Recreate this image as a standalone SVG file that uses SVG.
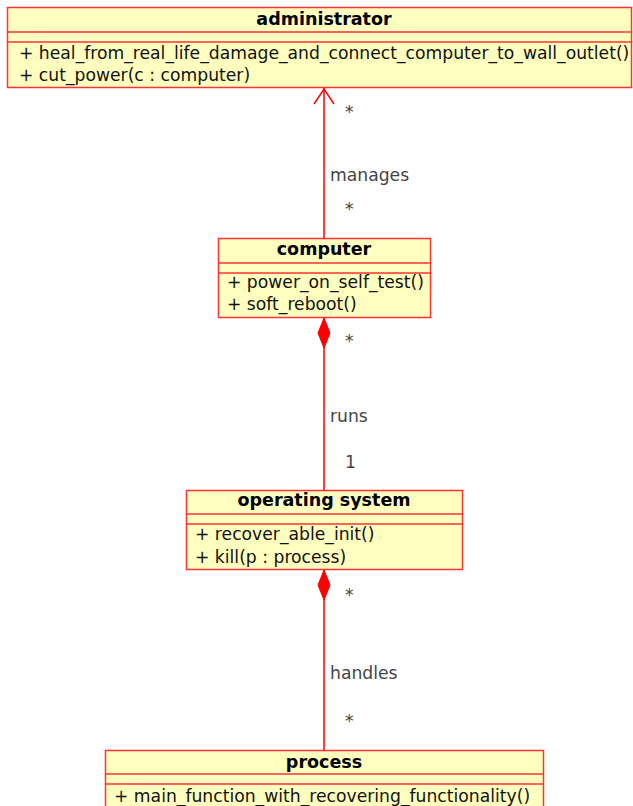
<svg xmlns="http://www.w3.org/2000/svg" width="633" height="806" viewBox="0 0 633 806">
<style>
.box{fill:#ffffc0;stroke:#f33;stroke-width:1.5}
.sep{stroke:#f33;stroke-width:1.5}
.title{font-family:"DejaVu Sans",sans-serif;font-size:17.5px;font-weight:bold;fill:#000;text-anchor:middle}
.op{font-family:"DejaVu Sans",sans-serif;font-size:17.2px;fill:#111}
.lbl{font-family:"DejaVu Sans",sans-serif;font-size:17.2px;fill:#444}
.edge{stroke:#f00;stroke-width:1.5;fill:none}
.dia{fill:#f00;stroke:#f00}
</style>
<rect width="633" height="806" fill="#fff"/>
<g id="administrator">
<rect class="box" x="7.5" y="7.5" width="624" height="80"/>
<line class="sep" x1="7.5" y1="32" x2="631.5" y2="32"/>
<line class="sep" x1="7.5" y1="42" x2="631.5" y2="42"/>
<text class="title" x="324" y="25">administrator</text>
<text class="op" x="19" y="59">+ heal_from_real_life_damage_and_connect_computer_to_wall_outlet()</text>
<text class="op" x="19" y="81">+ cut_power(c : computer)</text>
</g>
<g id="computer">
<rect class="box" x="218.5" y="238.5" width="212" height="79"/>
<line class="sep" x1="218.5" y1="263" x2="430.5" y2="263"/>
<line class="sep" x1="218.5" y1="273" x2="430.5" y2="273"/>
<text class="title" x="324" y="255">computer</text>
<text class="op" x="227" y="288">+ power_on_self_test()</text>
<text class="op" x="227" y="310">+ soft_reboot()</text>
</g>
<g id="operating_system">
<rect class="box" x="186.5" y="490.5" width="276" height="79"/>
<line class="sep" x1="186.5" y1="514" x2="462.5" y2="514"/>
<line class="sep" x1="186.5" y1="524" x2="462.5" y2="524"/>
<text class="title" x="324" y="506">operating system</text>
<text class="op" x="195" y="540">+ recover_able_init()</text>
<text class="op" x="195" y="563">+ kill(p : process)</text>
</g>
<g id="process">
<rect class="box" x="105.5" y="750.5" width="438" height="70"/>
<line class="sep" x1="105.5" y1="774" x2="543.5" y2="774"/>
<line class="sep" x1="105.5" y1="784" x2="543.5" y2="784"/>
<text class="title" x="324" y="768">process</text>
<text class="op" x="114" y="802">+ main_function_with_recovering_functionality()</text>
</g>
<g id="connectors">
<line class="edge" x1="324" y1="88" x2="324" y2="238"/>
<polyline class="edge" points="314,104 324,89 334,104"/>
<line class="edge" x1="324" y1="318" x2="324" y2="490"/>
<polygon class="dia" points="324,318 330,333 324,348 318,333"/>
<line class="edge" x1="324" y1="570" x2="324" y2="750"/>
<polygon class="dia" points="324,570 330,585 324,600 318,585"/>
<text class="lbl" x="345" y="118">*</text>
<text class="lbl" x="330" y="181">manages</text>
<text class="lbl" x="345" y="215">*</text>
<text class="lbl" x="345" y="347">*</text>
<text class="lbl" x="330" y="422">runs</text>
<text class="lbl" x="345" y="468">1</text>
<text class="lbl" x="345" y="601">*</text>
<text class="lbl" x="330" y="679">handles</text>
<text class="lbl" x="345" y="727">*</text>
</g>
</svg>
